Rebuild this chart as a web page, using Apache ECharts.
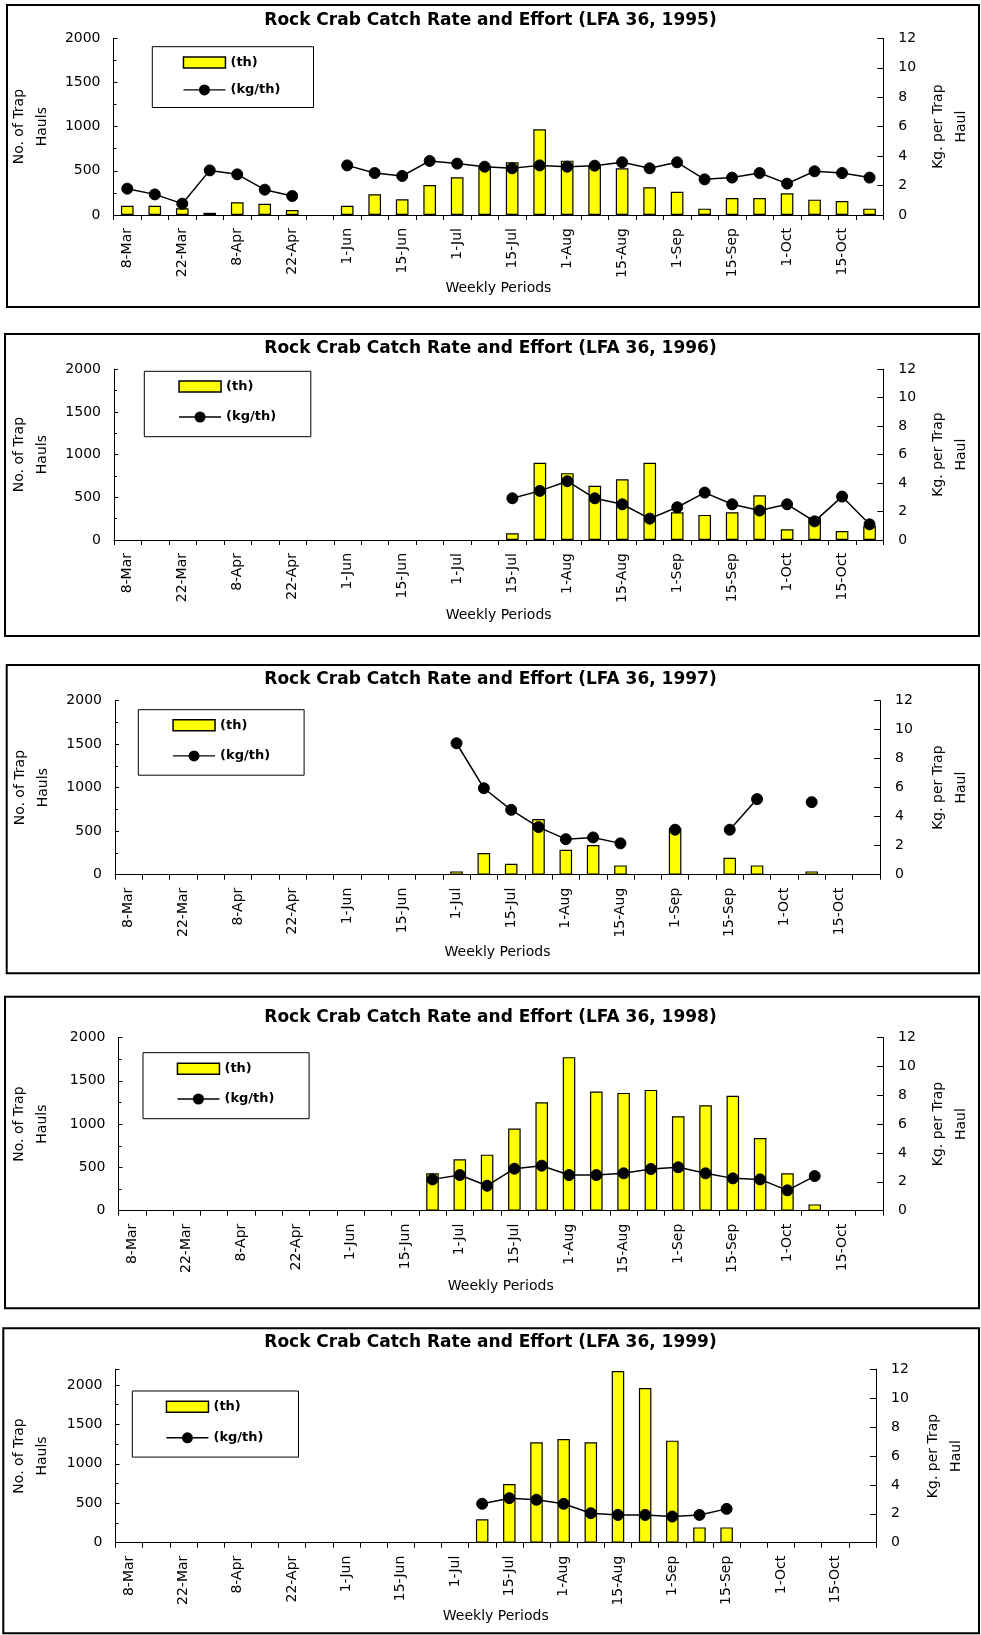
<!DOCTYPE html>
<html>
<head>
<meta charset="utf-8">
<script src="https://cdn.jsdelivr.net/npm/echarts@6/dist/echarts.min.js"></script>
<style>
html,body{margin:0;padding:0;background:#fff;}
#chart{width:981px;height:1635px;}
</style>
</head>
<body>
<div id="chart"></div>
<script>
// ---------- DATA ----------
const categories = ['8-Mar','15-Mar','22-Mar','29-Mar','8-Apr','15-Apr','22-Apr','29-Apr',
  '1-Jun','8-Jun','15-Jun','22-Jun','1-Jul','8-Jul','15-Jul','22-Jul','1-Aug','8-Aug',
  '15-Aug','22-Aug','1-Sep','8-Sep','15-Sep','22-Sep','1-Oct','8-Oct','15-Oct','22-Oct'];
const years = [1995, 1996, 1997, 1998, 1999];
const haulMax = [2000, 2000, 2000, 2000, 2200];
const haulInterval = 500;
const rateMax = 12;
const rateInterval = 2;
const barName = '(th)';
const lineName = '(kg/th)';
const titles = years.map(y => 'Rock Crab Catch Rate and Effort (LFA 36, ' + y + ')');

const th1995 = [105,105,75,25,143,128,57,null,105,234,177,340,426,547,596,970,615,555,528,313,264,72,192,192,245,174,158,72];
const kg1995 = [1.79,1.40,0.77,3.03,2.76,1.72,1.29,null,3.37,2.85,2.65,3.67,3.49,3.28,3.17,3.37,3.28,3.35,3.58,3.17,3.58,2.42,2.54,2.85,2.13,2.97,2.85,2.54];

const th1996 = [null,null,null,null,null,null,null,null,null,null,null,null,null,null,78,904,783,634,712,904,325,294,325,524,125,266,106,164];
const kg1996 = [null,null,null,null,null,null,null,null,null,null,null,null,null,null,2.93,3.45,4.13,2.93,2.51,1.50,2.30,3.33,2.51,2.07,2.51,1.31,3.05,1.10];

const th1997 = [null,null,null,null,null,null,null,null,null,null,null,null,38,249,126,639,287,340,107,null,535,null,195,107,null,38,null,null];
const kg1997 = [null,null,null,null,null,null,null,null,null,null,null,null,9.06,5.96,4.47,3.28,2.45,2.57,2.16,null,3.10,null,3.10,5.21,null,5.00,null,null];

const th1998 = [null,null,null,null,null,null,null,null,null,null,null,432,593,647,948,1252,1773,1376,1360,1395,1091,1218,1326,840,432,73,null,null];
const kg1998 = [null,null,null,null,null,null,null,null,null,null,null,2.17,2.47,1.73,2.91,3.12,2.47,2.47,2.59,2.89,3.01,2.59,2.24,2.17,1.41,2.40,null,null];

const th1999 = [null,null,null,null,null,null,null,null,null,null,null,null,null,296,744,1273,1315,1273,2178,1962,1294,194,194,null,null,null,null,null];
const kg1999 = [null,null,null,null,null,null,null,null,null,null,null,null,null,2.69,3.08,2.97,2.69,2.04,1.92,1.92,1.81,1.92,2.34,null,null,null,null,null];

const thData = [th1995, th1996, th1997, th1998, th1999];
const kgData = [kg1995, kg1996, kg1997, kg1998, kg1999];

// ---------- LAYOUT (positions / styles only) ----------
const layout = [
  {box:[7,5,972,302], grid:[108.7,38.3,777.3,176.7], titleY:20.5,
   leg:{left:152.3,top:46.7,pad:[9.3,33,11.1,30.4],gap:14.4}, lGap:54, rGap:40, xGap:65},
  {box:[5,334,974,302], grid:[113.3,369.2,770,170.8], titleY:349,
   leg:{left:144.3,top:371.3,pad:[8.7,34.7,13.2,34],gap:17.5}, lGap:60, rGap:41.7, xGap:68},
  {box:[6.7,665,972.3,308.3], grid:[115,700.6,768.3,174.1], titleY:679.7,
   leg:{left:138.3,top:709.7,pad:[9,34,12.8,34],gap:17.7}, lGap:60, rGap:47, xGap:71},
  {box:[5,996.7,974,311.6], grid:[117.7,1037.5,765.3,173.2], titleY:1017.5,
   leg:{left:143,top:1052.7,pad:[9.6,34.6,13.2,33.7],gap:17.2}, lGap:64.5, rGap:42.5, xGap:68.8},
  {box:[3.3,1328.3,975.7,305], grid:[112.3,1369.2,763.7,173.5], titleY:1342.8,
   leg:{left:132.3,top:1391,pad:[9.3,35,12.8,33.4],gap:18}, lGap:61.5, rGap:46, xGap:67}
];

// legend glyph for the line series: short line, dot, short line
const lineIcon = 'path://M0,4.8 L15.6,4.8 L15.6,6.2 L0,6.2 Z M26.4,4.8 L42,4.8 L42,6.2 L26.4,6.2 Z ' +
                 'M15.5,5.5 A5.5,5.5 0 1 1 26.5,5.5 A5.5,5.5 0 1 1 15.5,5.5 Z';

const FONT = 'DejaVu Sans';
const chart = echarts.init(document.getElementById('chart'), null, {renderer:'canvas'});

const option = {
  animation: false,
  backgroundColor: '#fff',
  title: [], legend: [], grid: [], xAxis: [], yAxis: [], series: [], graphic: []
};

layout.forEach((L, i) => {
  option.graphic.push({
    type: 'rect', silent: true, z: -1,
    shape: {x: L.box[0], y: L.box[1], width: L.box[2], height: L.box[3]},
    style: {fill: 'none', stroke: '#000', lineWidth: 2}
  });
  option.title.push({
    text: titles[i], left: 'center', top: L.titleY - 10, padding: 0,
    textStyle: {fontFamily: FONT, fontSize: 17, fontWeight: 'bold', color: '#000', lineHeight: 20}
  });
  option.legend.push({
    orient: 'vertical', left: L.leg.left, top: L.leg.top, padding: L.leg.pad,
    itemGap: L.leg.gap, itemWidth: 42, itemHeight: 11,
    borderColor: '#000', borderWidth: 1, backgroundColor: '#fff',
    selectedMode: false, symbolKeepAspect: false,
    textStyle: {fontFamily: FONT, fontSize: 13, fontWeight: 'bold', color: '#000', lineHeight: 11},
    data: [
      {name: barName, icon: 'rect', itemStyle: {color: '#FFFF00', borderColor: '#000', borderWidth: 1.5}},
      {name: lineName, icon: lineIcon, itemStyle: {color: '#000', borderWidth: 0}}
    ]
  });
  option.grid.push({left: L.grid[0], top: L.grid[1], width: L.grid[2], height: L.grid[3], containLabel: false});
  option.xAxis.push({
    type: 'category', gridIndex: i, data: categories, boundaryGap: true,
    name: 'Weekly Periods', nameLocation: 'middle', nameGap: L.xGap,
    nameTextStyle: {fontFamily: FONT, fontSize: 14, color: '#000'},
    axisLine: {lineStyle: {color: '#000', width: 1}},
    axisTick: {show: true, interval: 0, length: 5, lineStyle: {color: '#000'}},
    axisLabel: {interval: 1, rotate: 90, margin: 13, fontFamily: FONT, fontSize: 14, color: '#000'},
    splitLine: {show: false}
  });
  option.yAxis.push({
    type: 'value', gridIndex: i, position: 'left', min: 0, max: haulMax[i], interval: haulInterval,
    name: 'No. of Trap\nHauls', nameLocation: 'middle', nameGap: L.lGap, nameRotate: 90,
    nameTextStyle: {fontFamily: FONT, fontSize: 14, color: '#000', lineHeight: 23, align: 'center'},
    axisLine: {show: true, lineStyle: {color: '#000', width: 1}},
    axisTick: {show: true, inside: true, length: 4, lineStyle: {color: '#000'}},
    minorTick: {show: true, splitNumber: 2, length: 3, lineStyle: {color: '#000'}},
    axisLabel: {margin: 13, fontFamily: FONT, fontSize: 14, color: '#000',
      formatter: v => (v > 2000 ? '' : String(v))},
    splitLine: {show: false}
  });
  option.yAxis.push({
    type: 'value', gridIndex: i, position: 'right', min: 0, max: rateMax, interval: rateInterval,
    name: 'Kg. per Trap\nHaul', nameLocation: 'middle', nameGap: L.rGap, nameRotate: 90,
    nameTextStyle: {fontFamily: FONT, fontSize: 14, color: '#000', lineHeight: 23, align: 'center'},
    axisLine: {show: true, lineStyle: {color: '#000', width: 1}},
    axisTick: {show: true, inside: true, length: 6, lineStyle: {color: '#000'}},
    axisLabel: {margin: 15, fontFamily: FONT, fontSize: 14, color: '#000'},
    splitLine: {show: false}
  });
  option.series.push({
    name: barName, type: 'bar', xAxisIndex: i, yAxisIndex: 2 * i,
    data: thData[i], barWidth: '46%',
    itemStyle: {color: '#FFFF00', borderColor: '#000', borderWidth: 1.2}
  });
  option.series.push({
    name: lineName, type: 'line', xAxisIndex: i, yAxisIndex: 2 * i + 1,
    data: kgData[i], connectNulls: false, showAllSymbol: true,
    symbol: 'circle', symbolSize: 11,
    lineStyle: {color: '#000', width: 1.5},
    itemStyle: {color: '#000', borderColor: '#000'}
  });
});

chart.setOption(option);
</script>
</body>
</html>
